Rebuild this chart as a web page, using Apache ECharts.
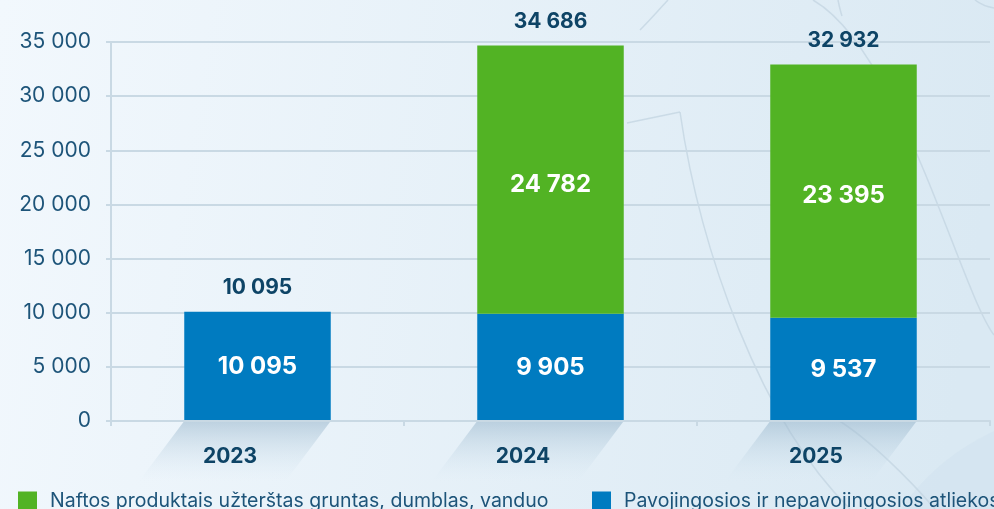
<!DOCTYPE html>
<html>
<head>
<meta charset="utf-8">
<script src="https://cdn.jsdelivr.net/npm/echarts@6/dist/echarts.min.js"></script>
<style>
  html, body { margin: 0; padding: 0; }
  #chart { width: 994px; height: 509px; }
</style>
</head>
<body>
<div id="chart"></div>
<script>
// duomenys
const years = ['2023', '2024', '2025']
const hazardous = [10095, 9905, 9537]
const oilSoil = ['-', 24782, 23395]
const totals = [10095, 34686, 32932]
const nameOil = 'Naftos produktais užterštas gruntas, dumblas, vanduo'
const nameHaz = 'Pavojingosios ir nepavojingosios atliekos'

const FONT = 'Inter, "Noto Sans", sans-serif'
const NAVY = '#0e4466'
const LINE = '#c9d9e4'

// tarpas tarp tūkstančių
const fmt = v => String(v).replace(/\B(?=(\d{3})+(?!\d))/g, ' ')

const chart = echarts.init(document.getElementById('chart'))

const deco = (shape, type = 'bezierCurve') => ({
    type,
    silent: true,
    z: -10,
    shape,
    style: { stroke: '#c4d6e2', lineWidth: 1.5, fill: null, opacity: 0.8 }
})

const option = {
    backgroundColor: new echarts.graphic.LinearGradient(0, 0, 1, 0.3, [
        { offset: 0, color: '#f2f8fd' },
        { offset: 1, color: '#dae9f3' }
    ]),
    textStyle: { fontFamily: FONT },
    graphic: [
        {
            type: 'circle', silent: true, z: -11,
            shape: { cx: 1090, cy: 640, r: 230 },
            style: { fill: 'rgba(210,226,238,0.55)' }
        },
        deco({ x1: 668, y1: 0, x2: 640, y2: 30, cpx1: 655, cpy1: 14, cpx2: 648, cpy2: 22 }),
        deco({ x1: 813, y1: 0, x2: 994, y2: 335, cpx1: 900, cpy1: 50, cpx2: 960, cpy2: 290 }),
        deco({ points: [[627, 123], [680, 112]] }, 'polyline'),
        deco({ x1: 680, y1: 112, x2: 850, y2: 509, cpx1: 700, cpy1: 250, cpx2: 760, cpy2: 420 }),
        deco({ x1: 838, y1: 420, x2: 935, y2: 509, cpx1: 870, cpy1: 440, cpx2: 910, cpy2: 480 }),
        deco({ x1: 838, y1: 0, x2: 842, y2: 16, cpx1: 839, cpy1: 5, cpx2: 840, cpy2: 10 }),
        deco({ x1: 975, y1: 0, x2: 994, y2: 8, cpx1: 980, cpy1: 4, cpx2: 988, cpy2: 7 })
    ],
    legend: [
        {
            data: [nameOil], left: 18, top: 491, padding: 0,
            itemWidth: 19, itemHeight: 19, icon: 'rect',
            textStyle: { fontSize: 19.5, color: '#1d5479', padding: [0, 0, 0, 8] }
        },
        {
            data: [nameHaz], left: 592, top: 491, padding: 0,
            itemWidth: 19, itemHeight: 19, icon: 'rect',
            textStyle: { fontSize: 19.5, color: '#1d5479', padding: [0, 0, 0, 8] }
        }
    ],
    grid: { left: 111, right: 4, top: 42, bottom: 88 },
    xAxis: {
        type: 'category',
        data: years,
        z: 10,
        axisLine: { lineStyle: { color: LINE, width: 2 } },
        axisTick: { show: true, length: 5, lineStyle: { color: LINE, width: 2 } },
        axisLabel: { margin: 25, fontSize: 21, fontWeight: 'bold', color: NAVY, padding: [0, 55, 0, 0] }
    },
    yAxis: {
        type: 'value',
        min: 0,
        max: 35000,
        interval: 5000,
        axisLine: { show: true, lineStyle: { color: LINE, width: 2 } },
        axisTick: { show: true, length: 5, lineStyle: { color: LINE, width: 2 } },
        splitLine: { lineStyle: { color: LINE, width: 2 } },
        axisLabel: { margin: 20, fontSize: 21, color: '#1d5479', formatter: fmt }
    },
    series: [
        {
            // šešėlis po stulpeliais
            type: 'custom',
            silent: true,
            clip: false,
            z: 0,
            data: years.map((y, i) => [i, 0]),
            encode: { x: 0, y: 1 },
            renderItem (params, api) {
                const p = api.coord([api.value(0), 0])
                const w = api.size([1, 0])[0] * 0.5
                const x0 = p[0] - w / 2
                const x1 = p[0] + w / 2
                const y0 = p[1]
                return {
                    type: 'polygon',
                    shape: { points: [[x0, y0], [x1, y0], [x1 - 45, y0 + 60], [x0 - 45, y0 + 60]] },
                    style: {
                        fill: new echarts.graphic.LinearGradient(0, 0, 0, 1, [
                            { offset: 0, color: 'rgba(150,180,202,0.55)' },
                            { offset: 1, color: 'rgba(210,228,240,0)' }
                        ])
                    }
                }
            }
        },
        {
            name: nameHaz,
            type: 'bar',
            stack: 'a',
            barWidth: '50%',
            data: hazardous,
            itemStyle: { color: '#007bc0' },
            label: {
                show: true, position: 'inside', color: '#fff',
                fontSize: 24, fontWeight: 'bold', formatter: p => fmt(p.value)
            }
        },
        {
            name: nameOil,
            type: 'bar',
            stack: 'a',
            barWidth: '50%',
            data: oilSoil,
            itemStyle: { color: '#52b324' },
            label: {
                show: true, position: 'inside', offset: [0, 5], color: '#fff',
                fontSize: 24, fontWeight: 'bold', formatter: p => fmt(p.value)
            }
        },
        {
            // sumos virš stulpelių
            type: 'scatter',
            silent: true,
            symbolSize: 0,
            data: totals,
            itemStyle: { opacity: 1 },
            label: {
                show: true, position: 'top', distance: 13,
                fontSize: 21, fontWeight: 'bold', color: NAVY,
                formatter: p => fmt(p.value)
            }
        }
    ]
}

chart.setOption(option)
</script>
</body>
</html>
